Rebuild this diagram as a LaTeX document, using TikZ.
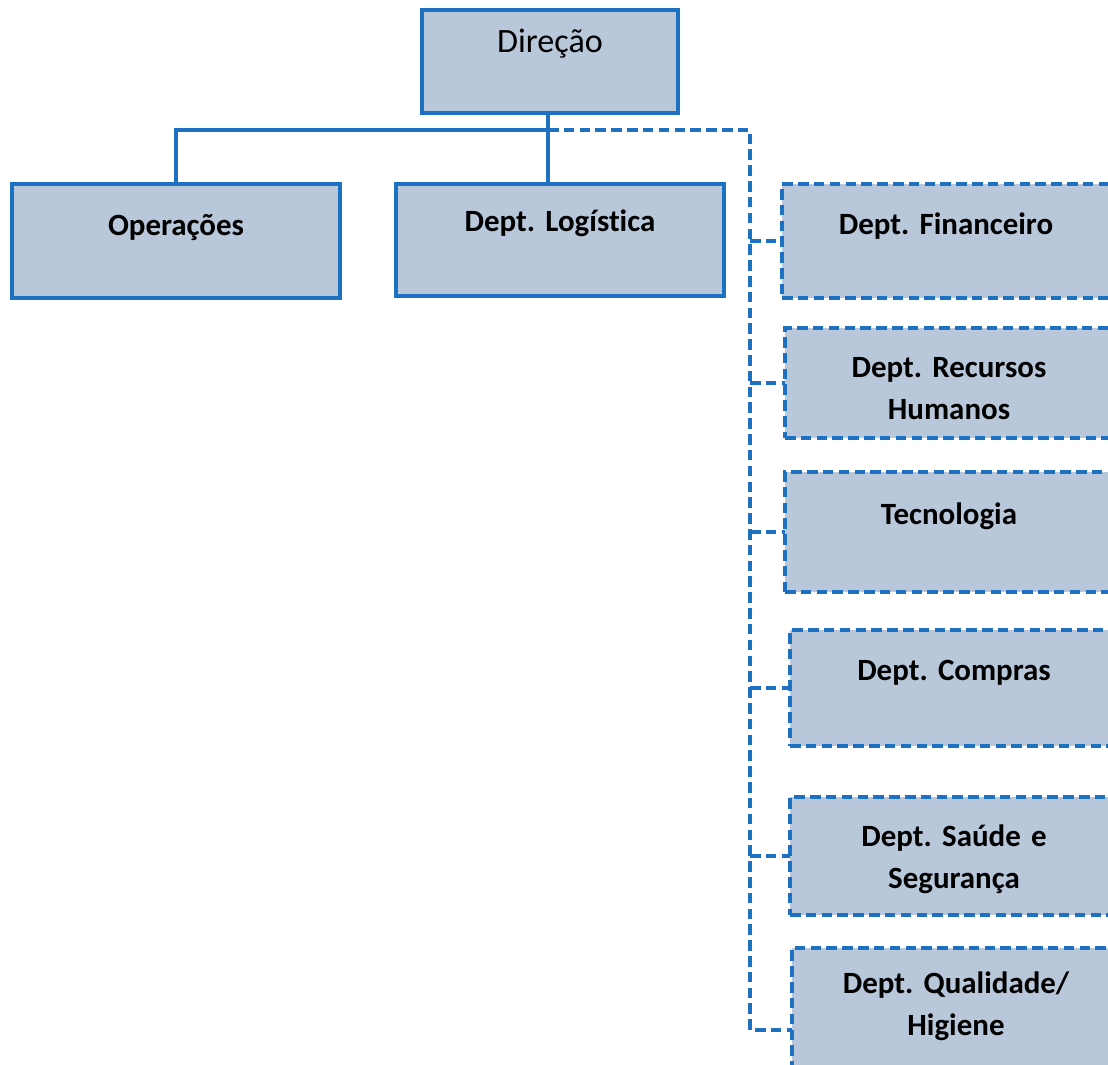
\documentclass[tikz,border=0pt]{standalone}
\usepackage{fontspec}
\setmainfont[Ligatures={NoCommon}]{Carlito}
\frenchspacing
\usetikzlibrary{positioning}
\definecolor{boxfill}{RGB}{184,199,218}
\definecolor{boxline}{RGB}{30,112,192}
\begin{document}
\begin{tikzpicture}[
	unitbox/.style={draw=boxline,fill=boxfill,line width=1.1pt,minimum width=3.28cm,outer sep=0pt,anchor=north west,inner sep=0pt},
	staffbox/.style={unitbox,line width=1pt,dash pattern=on 3pt off 1.5pt},
	tag/.style={anchor=base,text width=3.2cm,align=center,font=\fontsize{8.8pt}{12pt}\selectfont\bfseries,inner sep=0pt},
	link/.style={draw=boxline,line width=1.1pt},
	sublink/.style={draw=boxline,line width=1pt,dash pattern=on 3pt off 1.5pt}]
	\clip (0,0) rectangle (11.08,-10.64);
	\fill[white] (0,0) rectangle (11.08,-10.64);
	% boxes
	\node[unitbox,minimum width=2.56cm,minimum height=1.03cm] (dir) at (4.22,-0.10) {};
	\node[unitbox,minimum height=1.14cm] (ops) at (0.12,-1.84) {};
	\node[unitbox,minimum height=1.12cm] (log) at (3.96,-1.84) {};
	\node[staffbox,minimum height=1.14cm] (fin) at (7.82,-1.84) {};
	\node[staffbox,minimum height=1.10cm] (rh) at (7.85,-3.28) {};
	\node[staffbox,minimum height=1.20cm] (tec) at (7.85,-4.72) {};
	\node[staffbox,minimum height=1.16cm] (com) at (7.90,-6.30) {};
	\node[staffbox,minimum height=1.18cm] (sau) at (7.90,-7.97) {};
	\node[staffbox,minimum height=1.64cm] (qua) at (7.92,-9.48) {};
	% labels
	\node[tag,font=\fontsize{9.7pt}{12pt}\selectfont] at ([yshift=-4.2mm]dir.north) (dirtxt) {Direção};
	\node[tag] at ([yshift=-5.1mm]ops.north) (opstxt) {Operações};
	\node[tag] at ([yshift=-4.7mm]log.north) (logtxt) {Dept. Logística};
	\node[tag] at ([yshift=-5.0mm]fin.north) (fintxt) {Dept. Financeiro};
	\node[tag] at ([yshift=-4.9mm]rh.north) (rhtxt) {Dept. Recursos\\Humanos};
	\node[tag] at ([yshift=-5.2mm]tec.north) (tectxt) {Tecnologia};
	\node[tag] at ([yshift=-5.0mm]com.north) (comtxt) {Dept. Compras};
	\node[tag] at ([yshift=-4.9mm]sau.north) (sautxt) {Dept. Saúde e\\Segurança};
	\node[tag] at ([yshift=-4.5mm]qua.north) (quatxt) {Dept. Qualidade/\\Higiene};
	% connectors
	\coordinate (hub) at (5.48,-1.30);
	\coordinate (rail) at (7.50,-1.30);
	\draw[link] (dir.south -| hub) -- (log.north -| hub)
		(hub) -| (ops.north);
	\draw[sublink] (hub) -- (rail) -- (rail |- qua.west) -- (qua.west);
	\foreach \d in {fin,rh,tec,com,sau}
		\draw[sublink] (rail |- \d.west) -- (\d.west);
\end{tikzpicture}
\end{document}
